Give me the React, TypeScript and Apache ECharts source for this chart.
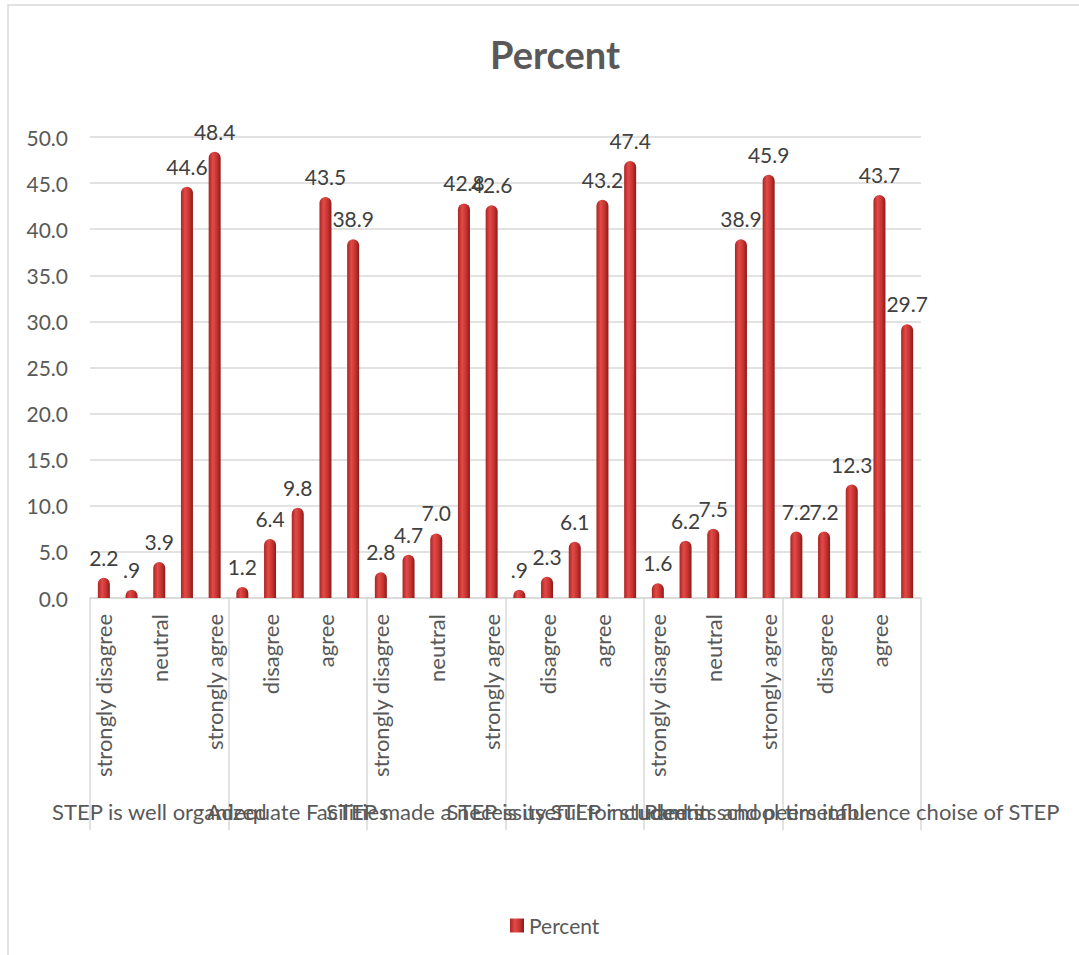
import React, { useEffect, useRef } from "react";
import * as echarts from "echarts";

const groupNames = [
  "STEP is well organized",
  "Adequate Facilities",
  "STEP made a necessity",
  "STEP is useful for students",
  "STEP included in school timetable",
  "Parents and peers influence choise of STEP",
];
const responses = ["strongly disagree", "disagree", "neutral", "agree", "strongly agree"];
const wellOrganized = [2.2, 0.9, 3.9, 44.6, 48.4];
const adequateFacilities = [1.2, 6.4, 9.8, 43.5, 38.9];
const madeNecessity = [2.8, 4.7, 7.0, 42.8, 42.6];
const usefulForStudents = [0.9, 2.3, 6.1, 43.2, 47.4];
const inTimetable = [1.6, 6.2, 7.5, 38.9, 45.9];
const influenceChoice = [7.2, 7.2, 12.3, 43.7, 29.7];
const yTicks = { min: 0, max: 50, interval: 5 };

const groupValues = [wellOrganized, adequateFacilities, madeNecessity, usefulForStudents, inTimetable, influenceChoice];

export default function App() {
  const ref = useRef<HTMLDivElement>(null);
  useEffect(() => {
    if (!ref.current) return;
    const chart = echarts.init(ref.current, undefined, { renderer: "svg" });
    const cats: string[] = [];
    const vals: number[] = [];
    groupValues.forEach((arr) => {
      arr.forEach((v, i) => {
        cats.push(responses[i]);
        vals.push(v);
      });
    });
    const font = "Lato, 'Noto Sans', sans-serif";
    const barColor = new echarts.graphic.LinearGradient(0, 0, 1, 0, [
      { offset: 0, color: "#a92524" },
      { offset: 0.35, color: "#e24a46" },
      { offset: 0.7, color: "#c4322f" },
      { offset: 1, color: "#8a1b1a" },
    ]);
    chart.setOption({
      animation: false,
      textStyle: { fontFamily: font },
      title: {
        text: "Percent",
        left: 485,
        top: 30,
        textStyle: { fontSize: 38, fontWeight: "bold", color: "#595959", fontFamily: font },
      },
      legend: {
        bottom: 14,
        left: 505,
        icon: "rect",
        itemWidth: 14,
        itemHeight: 14,
        itemGap: 4,
        textStyle: { fontSize: 21, color: "#595959", fontFamily: font },
        data: [{ name: "Percent", itemStyle: { color: barColor } }],
      },
      graphic: [
        {
          type: "rect",
          shape: { x: 8, y: 5, width: 1200, height: 1200 },
          style: { fill: "none", stroke: "#d9d9d9", lineWidth: 1.5 },
          silent: true,
        },
      ],
      grid: { left: 90, right: 158, top: 137, bottom: 357, containLabel: false },
      xAxis: [
        {
          type: "category",
          data: cats,
          position: "bottom",
          axisLine: { show: true, lineStyle: { color: "#d9d9d9", width: 1.5 } },
          axisTick: { show: false },
          axisLabel: {
            interval: 1,
            rotate: 90,
            margin: 16,
            fontSize: 22,
            color: "#595959",
            fontFamily: font,
          },
          splitLine: { show: false },
        },
        {
          type: "category",
          data: groupNames,
          position: "bottom",
          offset: 0,
          axisLine: { show: false },
          axisTick: { show: true, length: 232, lineStyle: { color: "#d9d9d9", width: 1.5 } },
          axisLabel: { interval: 0, margin: 202, fontSize: 22, color: "#595959", fontFamily: font },
          splitLine: { show: false },
        },
      ],
      yAxis: {
        type: "value",
        min: yTicks.min,
        max: yTicks.max,
        interval: yTicks.interval,
        axisLine: { show: false },
        axisTick: { show: false },
        axisLabel: {
          margin: 22,
          fontSize: 21,
          color: "#595959",
          fontFamily: font,
          formatter: (v: number) => v.toFixed(1),
        },
        splitLine: { lineStyle: { color: "#d9d9d9", width: 1.5 } },
      },
      series: [
        {
          name: "Percent",
          type: "bar",
          xAxisIndex: 0,
          data: vals,
          barWidth: 12,
          itemStyle: { color: barColor, borderRadius: [6, 6, 0, 0] },
          label: {
            show: true,
            position: "top",
            distance: 10,
            fontSize: 21,
            color: "#404040",
            fontFamily: font,
            formatter: (p: any) => {
              const s = Number(p.value).toFixed(1);
              return s.startsWith("0.") ? s.slice(1) : s;
            },
          },
        },
      ],
    });
    return () => chart.dispose();
  }, []);
  return (
    <div
      ref={ref}
      style={{ position: "fixed", left: 0, top: 0, width: 1079, height: 955, background: "#fff" }}
    />
  );
}
